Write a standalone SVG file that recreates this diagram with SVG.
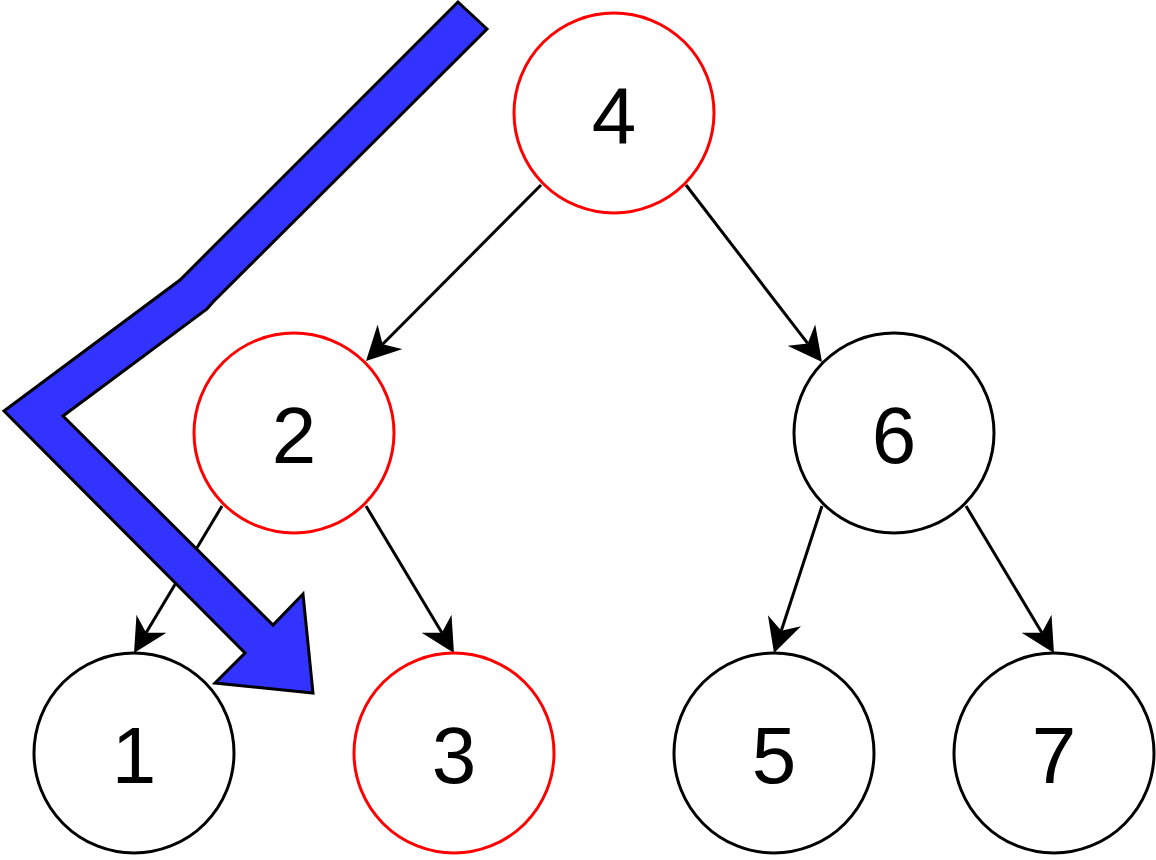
<svg xmlns="http://www.w3.org/2000/svg" width="1156" height="860" viewBox="0 0 1156 860">
<style>
.n{fill:#fff;stroke:#000;stroke-width:3}
.r{stroke:#ff0000}
.t{font-family:"Liberation Sans",Arial,sans-serif;font-size:80px;fill:#000;text-anchor:middle}
.e{stroke:#000;stroke-width:3;fill:none;marker-end:url(#a)}
</style>
<defs>
<marker id="a" markerUnits="userSpaceOnUse" viewBox="0 0 34 35" refX="10.5" refY="17.5" markerWidth="34" markerHeight="35" orient="auto">
<path d="M0,0 L34,17.5 L0,35 L10.5,17.5 Z" fill="#000"/>
</marker>
</defs>
<rect width="1156" height="860" fill="#fff"/>
<g id="connectors">
<line class="e" x1="541" y1="185" x2="382.6" y2="344.3"/>
<line class="e" x1="686" y1="185" x2="807.7" y2="343.4"/>
<line class="e" x1="222" y1="506" x2="146.1" y2="632.8"/>
<line class="e" x1="366" y1="506" x2="441.9" y2="632.8"/>
<line class="e" x1="822" y1="506" x2="781.3" y2="630.7"/>
<line class="e" x1="966" y1="506" x2="1041.9" y2="632.8"/>
</g>
<g id="node4"><circle class="n r" cx="614" cy="113" r="100"/><text class="t" x="614" y="143">4</text></g>
<g id="node2"><circle class="n r" cx="294" cy="433" r="100"/><text class="t" x="294" y="463">2</text></g>
<g id="node6"><circle class="n" cx="894" cy="433" r="100"/><text class="t" x="894" y="463">6</text></g>
<g id="node1"><circle class="n" cx="134" cy="753" r="100"/><text class="t" x="134" y="783">1</text></g>
<g id="node3"><circle class="n r" cx="454" cy="753" r="100"/><text class="t" x="454" y="783">3</text></g>
<g id="node5"><circle class="n" cx="774" cy="753" r="100"/><text class="t" x="774" y="783">5</text></g>
<g id="node7"><circle class="n" cx="1054" cy="753" r="100"/><text class="t" x="1054" y="783">7</text></g>
<g id="blue-arrow">
<polygon points="458,2 487,29 213,302 207,309 63,416 273,625 303,594 313,693 215,683 245,653 4,411 180,280" fill="#3333ff" stroke="#000" stroke-width="3" stroke-linejoin="miter"/>
</g>
</svg>
